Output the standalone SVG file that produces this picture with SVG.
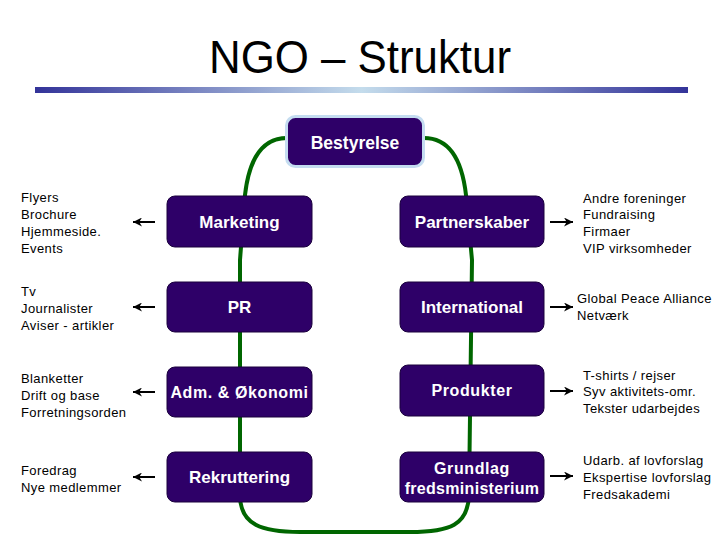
<svg xmlns="http://www.w3.org/2000/svg" width="720" height="540" viewBox="0 0 720 540">
<defs>
<linearGradient id="bar" x1="0" y1="0" x2="1" y2="0">
<stop offset="0" stop-color="#333399"/>
<stop offset="0.5" stop-color="#c4dcec"/>
<stop offset="1" stop-color="#333399"/>
</linearGradient>
<marker id="ah" viewBox="0 0 10 10" refX="10" refY="5" markerWidth="9" markerHeight="9" markerUnits="userSpaceOnUse" orient="auto">
<path d="M0,0 L10,5 L0,10 L3,5 Z" fill="#000"/>
</marker>
<style>
.box{fill:#2e0068;stroke:#1a003d;stroke-width:1}
.lbl{font-family:"Liberation Sans",Arial,sans-serif;font-weight:bold;font-size:17px;fill:#fff;text-anchor:middle}
.note{font-family:"Liberation Sans",Arial,sans-serif;font-size:13px;letter-spacing:0.4px;fill:#000}
.loop{fill:none;stroke:#006600;stroke-width:4}
.arr{stroke:#000;stroke-width:2;fill:none;marker-end:url(#ah)}
</style>
</defs>
<rect width="720" height="540" fill="#fff"/>
<text x="360" y="73" font-family="'Liberation Sans',Arial,sans-serif" font-size="46" text-anchor="middle" textLength="302" lengthAdjust="spacingAndGlyphs">NGO – Struktur</text>
<rect x="35" y="87" width="653" height="6" fill="url(#bar)"/>

<g id="connectors">
<path class="loop" d="M287,138 C262,138 249,160 245,195 L240,260 L240,495 C240,525 262,532 300,532 L410,532 C450,532 468,525 469,495 L472,260 L466,195 C462,160 450,138 424,138"/>
<path class="arr" d="M155,222 H133"/>
<path class="arr" d="M155,307 H133"/>
<path class="arr" d="M155,392 H133"/>
<path class="arr" d="M155,477 H133"/>
<path class="arr" d="M550,222 H573"/>
<path class="arr" d="M550,307 H573"/>
<path class="arr" d="M550,391 H573"/>
<path class="arr" d="M550,476 H573"/>
</g>

<g id="bestyrelse">
<rect x="286.5" y="116.5" width="137" height="50" rx="9" fill="#2e0068" stroke="#c4dcf0" stroke-width="3"/>
<text class="lbl" x="355" y="149" style="font-size:17.5px">Bestyrelse</text>
</g>

<g id="marketing">
<rect class="box" x="167" y="196" width="145" height="51" rx="8"/>
<text class="lbl" x="239.5" y="228">Marketing</text>
</g>
<g id="pr">
<rect class="box" x="167" y="282" width="145" height="50" rx="8"/>
<text class="lbl" x="239.5" y="313">PR</text>
</g>
<g id="adm">
<rect class="box" x="167" y="367" width="145" height="50" rx="8"/>
<text class="lbl" x="239.5" y="398" style="font-size:16px;letter-spacing:0.6px">Adm. &amp; Økonomi</text>
</g>
<g id="rekruttering">
<rect class="box" x="167" y="452" width="145" height="50" rx="8"/>
<text class="lbl" x="239.5" y="483">Rekruttering</text>
</g>

<g id="partnerskaber">
<rect class="box" x="400" y="196" width="144" height="51" rx="8"/>
<text class="lbl" x="472" y="228">Partnerskaber</text>
</g>
<g id="international">
<rect class="box" x="400" y="282" width="144" height="50" rx="8"/>
<text class="lbl" x="472" y="313">International</text>
</g>
<g id="produkter">
<rect class="box" x="400" y="365" width="144" height="51" rx="8"/>
<text class="lbl" x="472" y="396" style="font-size:16px;letter-spacing:0.6px">Produkter</text>
</g>
<g id="grundlag">
<rect class="box" x="400" y="452" width="144" height="50" rx="8"/>
<text class="lbl" x="472" y="474" style="font-size:16px;letter-spacing:0.6px">Grundlag</text>
<text class="lbl" x="472" y="494" style="font-size:16px;letter-spacing:0.3px">fredsministerium</text>
</g>

<g id="notes-left">
<text class="note" x="21" y="202">Flyers</text>
<text class="note" x="21" y="219">Brochure</text>
<text class="note" x="21" y="236">Hjemmeside.</text>
<text class="note" x="21" y="253">Events</text>
<text class="note" x="21" y="296">Tv</text>
<text class="note" x="21" y="313">Journalister</text>
<text class="note" x="21" y="330">Aviser - artikler</text>
<text class="note" x="21" y="383">Blanketter</text>
<text class="note" x="21" y="400">Drift og base</text>
<text class="note" x="21" y="417">Forretningsorden</text>
<text class="note" x="21" y="475">Foredrag</text>
<text class="note" x="21" y="492">Nye medlemmer</text>
</g>
<g id="notes-right">
<text class="note" x="583" y="203">Andre foreninger</text>
<text class="note" x="583" y="219">Fundraising</text>
<text class="note" x="583" y="236">Firmaer</text>
<text class="note" x="583" y="253">VIP virksomheder</text>
<text class="note" x="577" y="303">Global Peace Alliance</text>
<text class="note" x="577" y="320">Netværk</text>
<text class="note" x="583" y="380">T-shirts / rejser</text>
<text class="note" x="583" y="396">Syv aktivitets-omr.</text>
<text class="note" x="583" y="413">Tekster udarbejdes</text>
<text class="note" x="583" y="465">Udarb. af lovforslag</text>
<text class="note" x="583" y="482">Ekspertise lovforslag</text>
<text class="note" x="583" y="499">Fredsakademi</text>
</g>
</svg>
